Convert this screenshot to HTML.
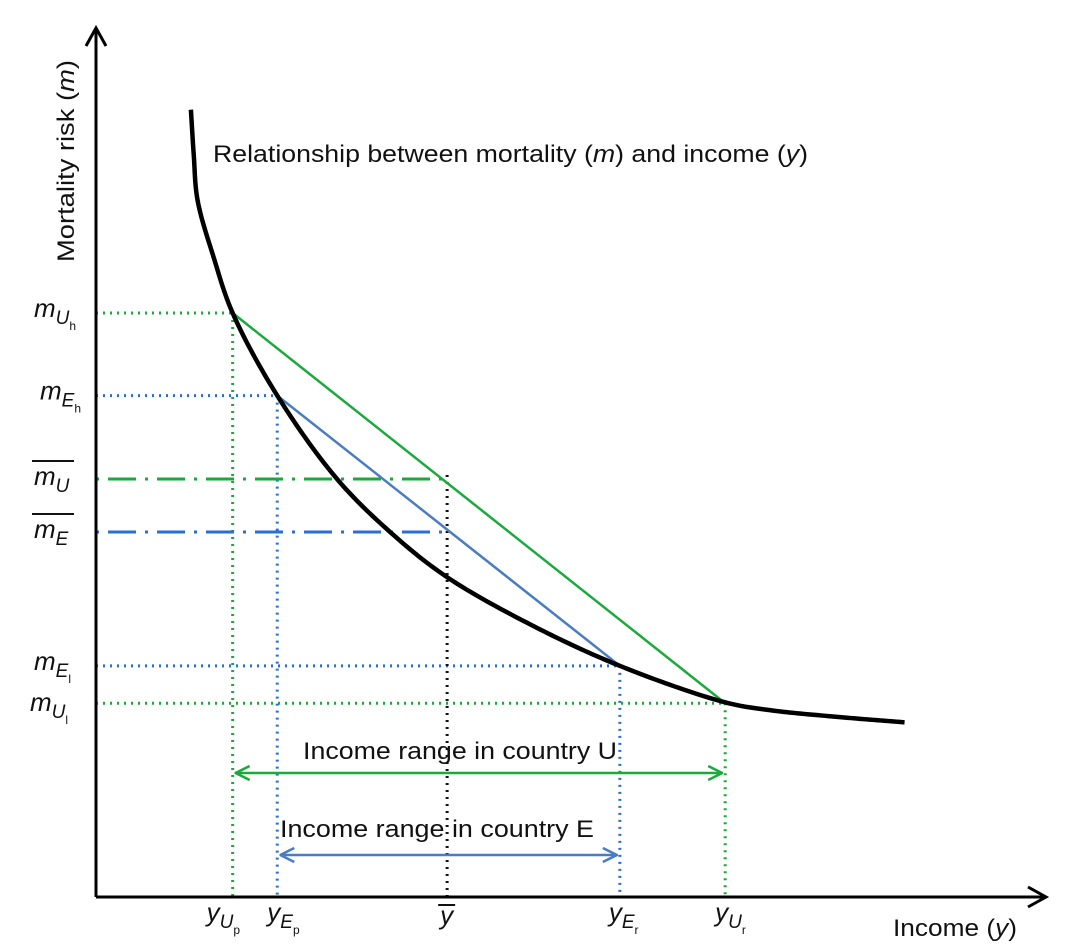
<!DOCTYPE html>
<html><head><meta charset="utf-8"><style>
html,body{margin:0;padding:0;background:#fff;}
svg{display:block;font-family:"Liberation Sans",sans-serif;}
</style></head><body>
<svg id="chart" width="1070" height="946" viewBox="0 0 1070 946" xmlns="http://www.w3.org/2000/svg">
<defs>
<marker id="ga" viewBox="0 0 16 16" refX="15" refY="8" markerWidth="16" markerHeight="16" markerUnits="userSpaceOnUse" orient="auto-start-reverse"><path d="M1,1 L15,8 L1,15" fill="none" stroke="#1aaa3c" stroke-width="2.5"/></marker>
<marker id="ba" viewBox="0 0 16 16" refX="15" refY="8" markerWidth="16" markerHeight="16" markerUnits="userSpaceOnUse" orient="auto-start-reverse"><path d="M1,1 L15,8 L1,15" fill="none" stroke="#4a7cc2" stroke-width="2.5"/></marker>
</defs>
<g id="marks"></g>
<g id="labels" font-size="24" fill="#111">
<text x="213" y="162" textLength="595" lengthAdjust="spacingAndGlyphs">Relationship between mortality (<tspan font-style="italic">m</tspan>) and income (<tspan font-style="italic">y</tspan>)</text>
<text transform="translate(74,262) rotate(-90)" textLength="202" lengthAdjust="spacingAndGlyphs">Mortality risk (<tspan font-style="italic">m</tspan>)</text>
<text x="893" y="936" textLength="124" lengthAdjust="spacingAndGlyphs">Income (<tspan font-style="italic">y</tspan>)</text>
<text x="303" y="759" textLength="314" lengthAdjust="spacingAndGlyphs">Income range in country U</text>
<text x="280" y="837" textLength="314" lengthAdjust="spacingAndGlyphs">Income range in country E</text>
</g>
</svg>
<script>
const curveX=[1.00,1.03,1.07,1.24,1.44,1.91,2.54,3.12,3.70,4.57,5.52,6.63,7.10,7.84,8.52];
const curveY=[9.06,8.54,8.02,7.36,6.72,5.77,4.81,4.18,3.68,3.14,2.66,2.24,2.15,2.07,2.01];
const incomeU=[1.44,6.63];
const mortU=[6.72,2.23];
const incomeE=[1.91,5.52];
const mortE=[5.77,2.66];
const meanIncome=3.70;
const meanMortU=4.81;
const meanMortE=4.20;

const X=v=>96+v*94.9, Y=v=>897-v*86.9;
const NS='http://www.w3.org/2000/svg';
const g=document.getElementById('marks');
function mk(tag,attrs){const e=document.createElementNS(NS,tag);for(const k in attrs)e.setAttribute(k,attrs[k]);g.appendChild(e);return e;}
const GR='#1aaa3c', BL='#4a7cc2', BLD='#2a6ed0';
const dot='2 5';

let e;
e=mk('line',{x1:X(0),y1:Y(mortU[0]),x2:X(incomeU[0]),y2:Y(mortU[0]),stroke:GR,'stroke-width':3,'stroke-dasharray':dot});

e=mk('line',{x1:X(0),y1:Y(mortU[1]),x2:X(incomeU[1]),y2:Y(mortU[1]),stroke:GR,'stroke-width':3,'stroke-dasharray':dot});

e=mk('line',{x1:X(0),y1:Y(mortE[0]),x2:X(incomeE[0]),y2:Y(mortE[0]),stroke:BLD,'stroke-width':3,'stroke-dasharray':dot});

e=mk('line',{x1:X(0),y1:Y(mortE[1]),x2:X(incomeE[1]),y2:Y(mortE[1]),stroke:BLD,'stroke-width':3,'stroke-dasharray':dot});

e=mk('line',{x1:X(incomeU[0]),y1:Y(mortU[0]),x2:X(incomeU[0]),y2:Y(0),stroke:GR,'stroke-width':3,'stroke-dasharray':dot});

e=mk('line',{x1:X(incomeU[1]),y1:Y(mortU[1]),x2:X(incomeU[1]),y2:Y(0),stroke:GR,'stroke-width':3,'stroke-dasharray':dot});

e=mk('line',{x1:X(incomeE[0]),y1:Y(mortE[0]),x2:X(incomeE[0]),y2:Y(0),stroke:BLD,'stroke-width':3,'stroke-dasharray':dot});

e=mk('line',{x1:X(incomeE[1]),y1:Y(mortE[1]),x2:X(incomeE[1]),y2:Y(0),stroke:BLD,'stroke-width':3,'stroke-dasharray':dot});

e=mk('line',{x1:X(meanIncome),y1:Y(meanMortU)-4,x2:X(meanIncome),y2:Y(0),stroke:'#111','stroke-width':3,'stroke-dasharray':dot});

e=mk('line',{x1:X(0),y1:Y(meanMortU),x2:X(meanIncome),y2:Y(meanMortU),stroke:GR,'stroke-width':3,'stroke-dasharray':'3 9 28 9'});

e=mk('line',{x1:X(0),y1:Y(meanMortE),x2:X(meanIncome),y2:Y(meanMortE),stroke:BLD,'stroke-width':3,'stroke-dasharray':'3 9 28 9'});


e=mk('line',{x1:X(incomeU[0]),y1:Y(mortU[0]),x2:X(incomeU[1]),y2:Y(mortU[1]),stroke:GR,'stroke-width':2.5});

e=mk('line',{x1:X(incomeE[0]),y1:Y(mortE[0]),x2:X(incomeE[1]),y2:Y(mortE[1]),stroke:BL,'stroke-width':2.5});


// centripetal Catmull-Rom spline in pixel space
const P=curveX.map((v,i)=>[X(v),Y(curveY[i])]);
const ext=[[2*P[0][0]-P[1][0],2*P[0][1]-P[1][1]],...P,[2*P[P.length-1][0]-P[P.length-2][0],2*P[P.length-1][1]-P[P.length-2][1]]];
function tj(ti,a,b){return ti+Math.pow(Math.hypot(b[0]-a[0],b[1]-a[1]),0.5);}
let d='';
for(let i=0;i<ext.length-3;i++){
  const p0=ext[i],p1=ext[i+1],p2=ext[i+2],p3=ext[i+3];
  const t0=0,t1=tj(t0,p0,p1),t2=tj(t1,p1,p2),t3=tj(t2,p2,p3);
  for(let k=0;k<=24;k++){
    const t=t1+(t2-t1)*k/24;
    const pt=[0,1].map(c=>{
      const A1=(t1-t)/(t1-t0)*p0[c]+(t-t0)/(t1-t0)*p1[c];
      const A2=(t2-t)/(t2-t1)*p1[c]+(t-t1)/(t2-t1)*p2[c];
      const A3=(t3-t)/(t3-t2)*p2[c]+(t-t2)/(t3-t2)*p3[c];
      const B1=(t2-t)/(t2-t0)*A1+(t-t0)/(t2-t0)*A2;
      const B2=(t3-t)/(t3-t1)*A2+(t-t1)/(t3-t1)*A3;
      return (t2-t)/(t2-t1)*B1+(t-t1)/(t2-t1)*B2;
    });
    d+=(d?' L':'M')+pt[0].toFixed(2)+','+pt[1].toFixed(2);
  }
}
e=mk('path',{d:d,fill:'none',stroke:'#000','stroke-width':4.5,'stroke-linejoin':'round'});


e=mk('line',{x1:X(incomeU[0])+3,y1:773,x2:X(incomeU[1])-3,y2:773,stroke:GR,'stroke-width':2.5,'marker-start':'url(#ga)','marker-end':'url(#ga)'});

e=mk('line',{x1:X(incomeE[0])+3,y1:855,x2:X(incomeE[1])-3,y2:855,stroke:BL,'stroke-width':2.5,'marker-start':'url(#ba)','marker-end':'url(#ba)'});


e=mk('path',{d:'M96,897 L96,30 M86,46 L96,28 L106,46',fill:'none',stroke:'#000','stroke-width':3});

e=mk('path',{d:'M96,897 L1045,897 M1028,887 L1046,897 L1028,907',fill:'none',stroke:'#000','stroke-width':3});


function lab(name,x,y,main,sub,subsub,bar,barOff){
  const t=mk('text',{x:x,y:y,'font-size':26,'font-style':'italic',fill:'#111'});
  
  
  t.innerHTML=main+(sub?'<tspan font-size="19" dy="7">'+sub+'</tspan>':'')+(subsub?'<tspan font-size="12" font-style="normal" dy="6">'+subsub+'</tspan>':'');
  if(bar){const l=mk('line',{x1:x-2,y1:y-(barOff||24),x2:x+bar,y2:y-(barOff||24),stroke:'#111','stroke-width':2});
    
    }
}
lab('m-u-high-label',34,Y(mortU[0])+4,'m','U','h');
lab('m-e-high-label',40,Y(mortE[0])+4,'m','E','h');
lab('m-u-mean-label',34,Y(meanMortU)+6,'m','U','',40);
lab('m-e-mean-label',34,Y(meanMortE)+6,'m','E','',40);
lab('m-e-low-label',34,Y(mortE[1])+4,'m','E','l');
lab('m-u-low-label',30,Y(mortU[1])+8,'m','U','l');
lab('y-u-poor-label',X(incomeU[0])-26,921,'y','U','p');
lab('y-e-poor-label',X(incomeE[0])-10,921,'y','E','p');
lab('y-mean-label',X(meanIncome)-7,924,'y','','',15,19);
lab('y-e-rich-label',X(incomeE[1])-11,921,'y','E','r');
lab('y-u-rich-label',X(incomeU[1])-10,921,'y','U','r');
</script>
</body></html>
